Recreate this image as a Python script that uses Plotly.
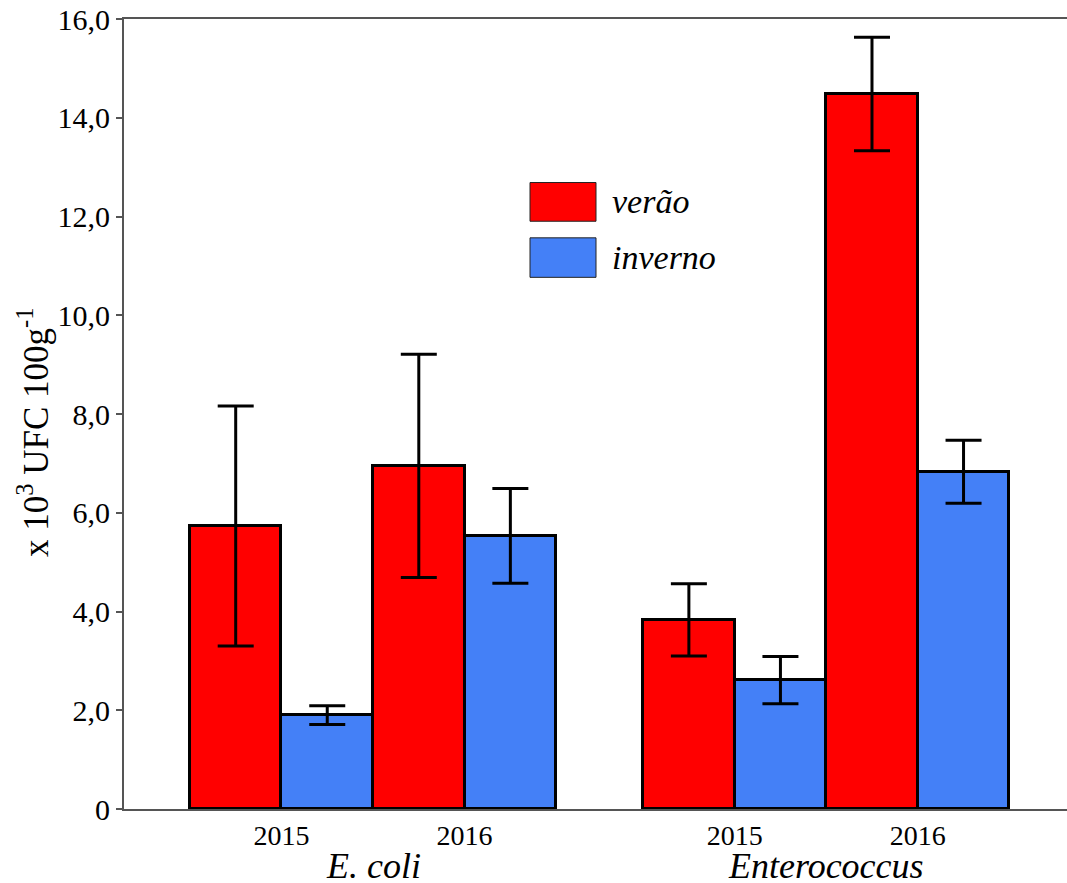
import plotly.graph_objects as go

# ---- data ----
groups = ["E. coli", "Enterococcus"]
years = ["2015", "2016", "2015", "2016"]
verao = [5.73, 6.95, 3.83, 14.48]
verao_err = [2.43, 2.26, 0.73, 1.15]
inverno = [1.90, 5.53, 2.61, 6.83]
inverno_err = [0.19, 0.96, 0.48, 0.64]
ytick_vals = [0, 2, 4, 6, 8, 10, 12, 14, 16]
ytick_text = ["0", "2,0", "4,0", "6,0", "8,0", "10,0", "12,0", "14,0", "16,0"]

# category positions (layout only)
xpos = [0, 1, 2.475, 3.475]

RED = "#FF0000"
BLUE = "#4480F7"
FONT = "Liberation Serif"

fig = go.Figure()
fig.add_trace(go.Bar(
    x=xpos, y=verao, width=0.5, offset=-0.5,
    marker=dict(color=RED, line=dict(color="black", width=3)),
    error_y=dict(type="data", array=verao_err, color="black", thickness=3, width=18),
    showlegend=False,
))
fig.add_trace(go.Bar(
    x=xpos, y=inverno, width=0.5, offset=0,
    marker=dict(color=BLUE, line=dict(color="black", width=3)),
    error_y=dict(type="data", array=inverno_err, color="black", thickness=3, width=18),
    showlegend=False,
))

fig.update_layout(
    width=1067, height=883,
    margin=dict(l=124, r=0, t=19, b=74),
    plot_bgcolor="white", paper_bgcolor="white",
    font=dict(family=FONT, color="black", size=27),
    bargap=0,
)
fig.update_xaxes(
    range=[-0.86, 4.29],
    tickvals=xpos, ticktext=years,
    showline=True, linecolor="#555555", linewidth=2, mirror=True,
    ticks="", showgrid=False, zeroline=False,
    tickfont=dict(size=28, family=FONT),
)
fig.update_yaxes(
    range=[0, 16],
    tickvals=ytick_vals, ticktext=ytick_text,
    showline=True, linecolor="#555555", linewidth=2,
    ticks="outside", ticklen=6, tickcolor="#555555", tickwidth=2,
    showgrid=False, zeroline=False,
    tickfont=dict(size=30, family=FONT),
)

# y axis title (placed to match reference)
fig.add_annotation(x=(33 - 124) / 943, xref="paper", y=(809 - 432) / 790, yref="paper",
                   text="x 10<sup>3</sup> UFC 100g<sup>-1</sup>", textangle=-90, showarrow=False,
                   xanchor="center", yanchor="middle", font=dict(size=35, family=FONT))

# group labels
group_centres = [(xpos[0] + xpos[1]) / 2, (xpos[2] + xpos[3]) / 2]
for g, xc in zip(groups, group_centres):
    fig.add_annotation(x=xc, xref="x", y=-(866 - 809) / 790, yref="paper", text="<i>%s</i>" % g,
                       showarrow=False, font=dict(size=36, family=FONT), yanchor="middle")

# legend drawn manually (large swatches)
for name, col, y0, y1 in [("verão", RED, 0.744, 0.793), ("inverno", BLUE, 0.673, 0.723)]:
    fig.add_shape(type="rect", xref="paper", yref="paper",
                  x0=(530 - 124) / 943, x1=(596 - 124) / 943, y0=y0, y1=y1,
                  fillcolor=col, line=dict(color="#222222", width=1))
    fig.add_annotation(x=(610 - 124) / 943, xref="paper", y=(y0 + y1) / 2, yref="paper",
                       text="<i>%s</i>" % name, showarrow=False, xanchor="left", yanchor="middle",
                       font=dict(size=34, family=FONT))

fig.write_html("out.html")
